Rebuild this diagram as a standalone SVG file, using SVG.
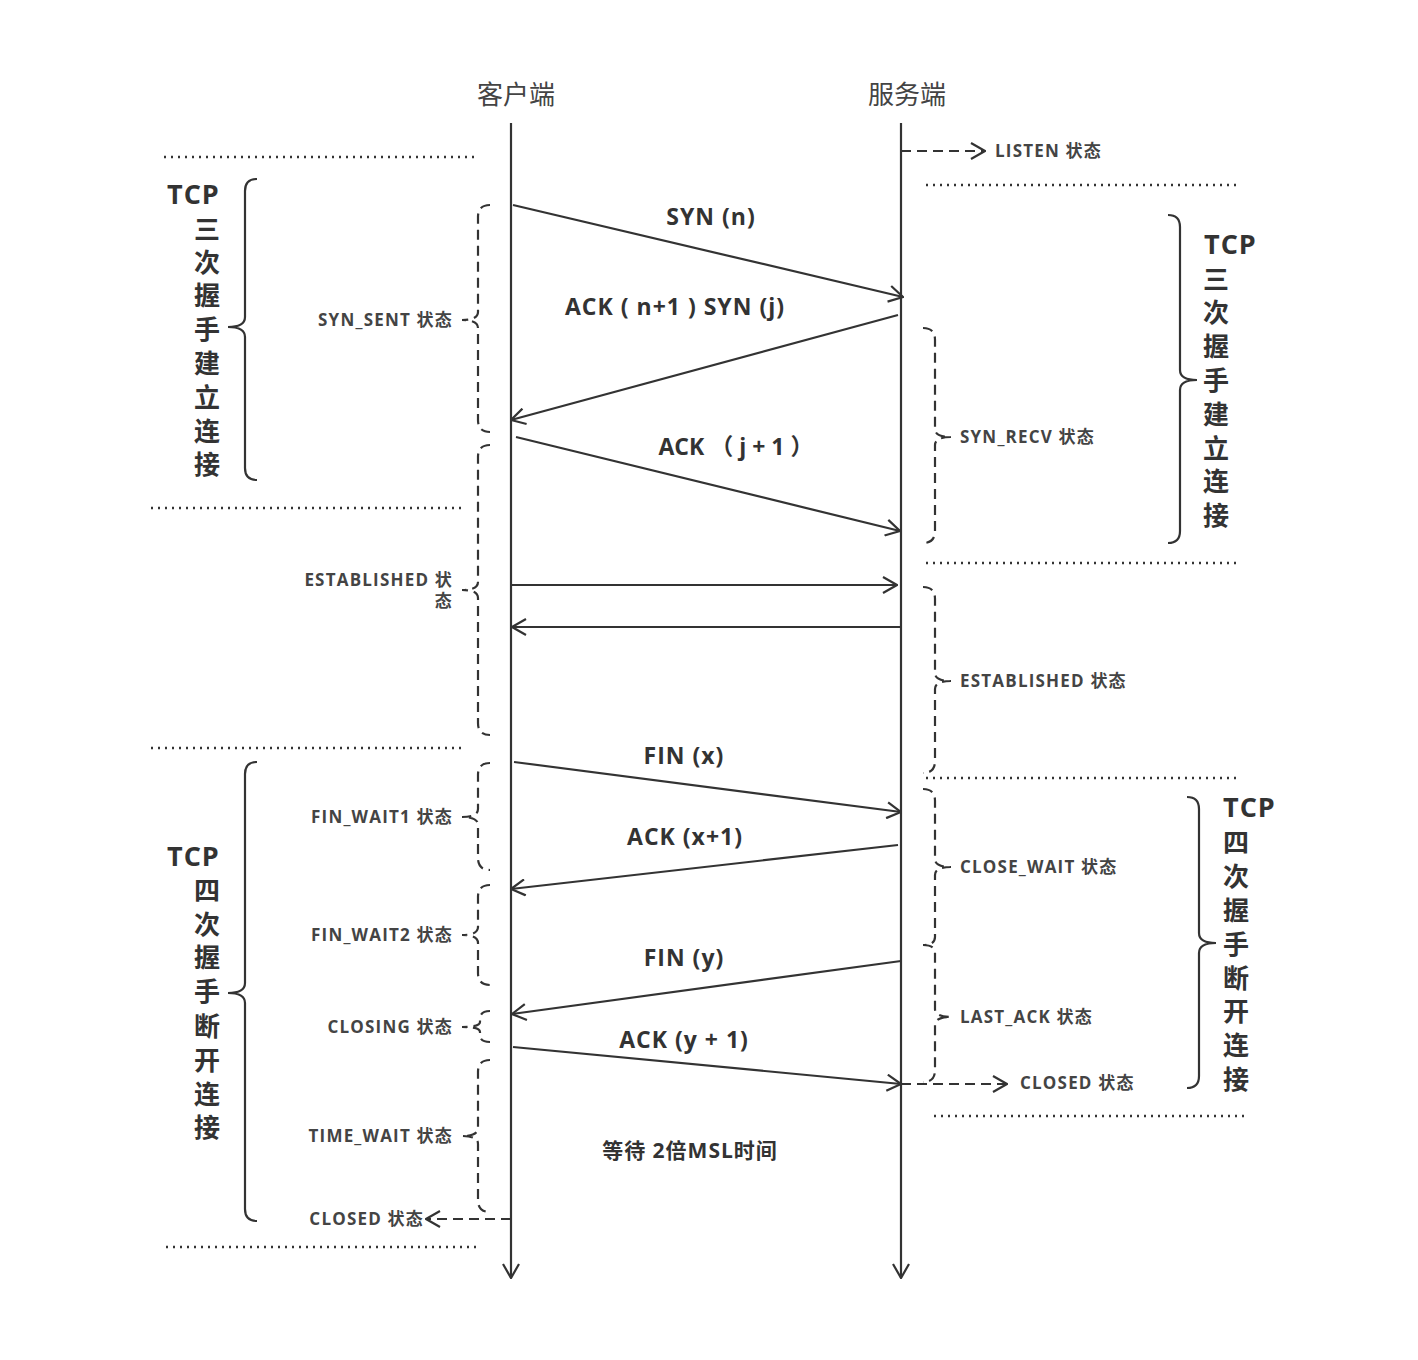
<svg xmlns="http://www.w3.org/2000/svg" width="1418" height="1360" viewBox="0 0 1418 1360">
<style>
  .life{stroke:#333;stroke-width:2.2;fill:none}
  .msg{stroke:#333;stroke-width:2.2;fill:none}
  .dash{stroke:#333;stroke-width:2.2;fill:none;stroke-dasharray:10 6}
  .dot{stroke:#333;stroke-width:2.5;fill:none;stroke-dasharray:2 5}
  .brace{stroke:#333;stroke-width:2.2;fill:none}
  .dbrace{stroke:#333;stroke-width:2.2;fill:none;stroke-dasharray:10 6}
  .hdr{font-family:"Noto Sans CJK SC","Noto Sans",sans-serif;font-size:26px;fill:#444;text-anchor:middle}
  .lbl{font-family:"Open Sans","Noto Sans CJK SC",sans-serif;font-size:23px;font-weight:bold;fill:#333;text-anchor:middle;letter-spacing:1px}
  .st{font-family:"Open Sans","Noto Sans CJK SC",sans-serif;font-size:17px;font-weight:bold;fill:#444;letter-spacing:1.2px}
  .end{text-anchor:end}
  .big{font-family:"Open Sans","Noto Sans CJK SC",sans-serif;font-size:27px;font-weight:bold;fill:#333;letter-spacing:1px}
  .vc{text-anchor:middle;letter-spacing:0;font-size:26px}
</style>
<defs>
  <marker id="ah" viewBox="0 0 16 18" refX="15" refY="9" markerWidth="16" markerHeight="18" markerUnits="userSpaceOnUse" orient="auto">
    <path d="M1,1 L15,9 L1,17" fill="none" stroke="#333" stroke-width="2.2" stroke-dasharray="none"/>
  </marker>
</defs>

<g id="client">
  <text class="hdr" x="516" y="104">客户端</text>
  <line class="life" x1="511" y1="123" x2="511" y2="1278" marker-end="url(#ah)"/>
</g>
<g id="server">
  <text class="hdr" x="907" y="104">服务端</text>
  <line class="life" x1="901" y1="123" x2="901" y2="1278" marker-end="url(#ah)"/>
</g>

<g id="separators">
  <line class="dot" x1="164" y1="157" x2="477" y2="157"/>
  <line class="dot" x1="926" y1="185" x2="1238" y2="185"/>
  <line class="dot" x1="151" y1="508" x2="463" y2="508"/>
  <line class="dot" x1="926" y1="563" x2="1238" y2="563"/>
  <line class="dot" x1="151" y1="748" x2="465" y2="748"/>
  <line class="dot" x1="926" y1="778" x2="1238" y2="778"/>
  <line class="dot" x1="934" y1="1116" x2="1246" y2="1116"/>
  <line class="dot" x1="166" y1="1247" x2="478" y2="1247"/>
</g>

<g id="connectors">
  <line class="dash" x1="901" y1="151" x2="985" y2="151" marker-end="url(#ah)"/>
  <line class="msg" x1="513" y1="205" x2="903" y2="297" marker-end="url(#ah)"/>
  <line class="msg" x1="898" y1="315" x2="511" y2="420" marker-end="url(#ah)"/>
  <line class="msg" x1="516" y1="437" x2="900" y2="531" marker-end="url(#ah)"/>
  <line class="msg" x1="511" y1="585" x2="897" y2="585" marker-end="url(#ah)"/>
  <line class="msg" x1="900" y1="627" x2="512" y2="627" marker-end="url(#ah)"/>
  <line class="msg" x1="514" y1="762" x2="901" y2="812" marker-end="url(#ah)"/>
  <line class="msg" x1="898" y1="845" x2="511" y2="889" marker-end="url(#ah)"/>
  <line class="msg" x1="901" y1="961" x2="512" y2="1014" marker-end="url(#ah)"/>
  <line class="msg" x1="513" y1="1047" x2="901" y2="1084" marker-end="url(#ah)"/>
  <line class="dash" x1="901" y1="1084" x2="1007" y2="1084" marker-end="url(#ah)"/>
  <line class="dash" x1="511" y1="1219" x2="426" y2="1219" marker-end="url(#ah)"/>
</g>

<g id="msg-labels">
  <text class="lbl" x="711" y="225">SYN (n)</text>
  <text class="lbl" x="675" y="315">ACK ( n+1 ) SYN (j)</text>
  <text class="lbl" x="736" y="455" style="letter-spacing:0">ACK （ j + 1 ）</text>
  <text class="lbl" x="684" y="764">FIN (x)</text>
  <text class="lbl" x="685" y="845">ACK (x+1)</text>
  <text class="lbl" x="684" y="966">FIN (y)</text>
  <text class="lbl" x="684" y="1048">ACK (y + 1)</text>
  <text class="lbl" x="690" y="1158" style="font-size:21px">等待 2倍MSL时间</text>
</g>

<g id="client-states">
  <path class="dbrace" d="M490,205 Q478,205 478,217 L478,312 Q478,320 462,320 Q478,320 478,328 L478,420 Q478,432 490,432"/>
  <text class="st end" x="453" y="326">SYN_SENT 状态</text>
  <path class="dbrace" d="M490,445 Q478,445 478,457 L478,582 Q478,590 462,590 Q478,590 478,598 L478,723 Q478,735 490,735"/>
  <text class="st end" x="453" y="586">ESTABLISHED 状</text>
  <text class="st end" x="453" y="607">态</text>
  <path class="dbrace" d="M490,763 Q478,763 478,775 L478,809 Q478,817 462,817 Q478,817 478,825 L478,858 Q478,870 490,870"/>
  <text class="st end" x="453" y="823">FIN_WAIT1 状态</text>
  <path class="dbrace" d="M490,885 Q478,885 478,897 L478,927 Q478,935 462,935 Q478,935 478,943 L478,973 Q478,985 490,985"/>
  <text class="st end" x="453" y="941">FIN_WAIT2 状态</text>
  <path class="dbrace" d="M490,1011 Q480,1011 480,1019 L480,1022 Q480,1027 462,1027 Q480,1027 480,1032 L480,1035 Q480,1042 490,1042"/>
  <text class="st end" x="453" y="1033">CLOSING 状态</text>
  <path class="dbrace" d="M490,1060 Q478,1060 478,1072 L478,1128 Q478,1136 462,1136 Q478,1136 478,1144 L478,1200 Q478,1212 490,1212"/>
  <text class="st end" x="453" y="1142">TIME_WAIT 状态</text>
  <text class="st end" x="424" y="1225">CLOSED 状态</text>
</g>

<g id="server-states">
  <text class="st" x="995" y="157">LISTEN 状态</text>
  <path class="dbrace" d="M923,328 Q935,328 935,340 L935,429 Q935,437 951,437 Q935,437 935,445 L935,531 Q935,543 923,543"/>
  <text class="st" x="960" y="443">SYN_RECV 状态</text>
  <path class="dbrace" d="M923,587 Q935,587 935,599 L935,673 Q935,681 951,681 Q935,681 935,689 L935,761 Q935,773 923,773"/>
  <text class="st" x="960" y="687">ESTABLISHED 状态</text>
  <path class="dbrace" d="M923,789 Q935,789 935,801 L935,859 Q935,867 951,867 Q935,867 935,875 L935,937 Q935,945 923,945"/>
  <text class="st" x="960" y="873">CLOSE_WAIT 状态</text>
  <path class="dbrace" d="M923,945 Q935,945 935,953 L935,1009 Q935,1017 951,1017 Q935,1017 935,1025 L935,1070 Q935,1082 923,1082"/>
  <text class="st" x="960" y="1023">LAST_ACK 状态</text>
  <text class="st" x="1020" y="1089">CLOSED 状态</text>
</g>

<g id="group-handshake-left">
  <path class="brace" d="M257,179 Q245,179 245,191 L245,317 Q245,327 228,327 Q245,327 245,337 L245,468 Q245,480 257,480"/>
  <text class="big" x="167" y="204">TCP</text>
  <text class="big vc" x="207" y="239">三</text>
  <text class="big vc" x="207" y="272">次</text>
  <text class="big vc" x="207" y="305">握</text>
  <text class="big vc" x="207" y="339">手</text>
  <text class="big vc" x="207" y="373">建</text>
  <text class="big vc" x="207" y="407">立</text>
  <text class="big vc" x="207" y="441">连</text>
  <text class="big vc" x="207" y="474">接</text>
</g>

<g id="group-teardown-left">
  <path class="brace" d="M257,762 Q245,762 245,774 L245,983 Q245,993 228,993 Q245,993 245,1003 L245,1209 Q245,1221 257,1221"/>
  <text class="big" x="167" y="866">TCP</text>
  <text class="big vc" x="207" y="900">四</text>
  <text class="big vc" x="207" y="934">次</text>
  <text class="big vc" x="207" y="967">握</text>
  <text class="big vc" x="207" y="1001">手</text>
  <text class="big vc" x="207" y="1036">断</text>
  <text class="big vc" x="207" y="1070">开</text>
  <text class="big vc" x="207" y="1104">连</text>
  <text class="big vc" x="207" y="1137">接</text>
</g>

<g id="group-handshake-right">
  <path class="brace" d="M1168,215 Q1180,215 1180,227 L1180,370 Q1180,380 1197,380 Q1180,380 1180,390 L1180,531 Q1180,543 1168,543"/>
  <text class="big" x="1204" y="254">TCP</text>
  <text class="big vc" x="1216" y="289">三</text>
  <text class="big vc" x="1216" y="322">次</text>
  <text class="big vc" x="1216" y="356">握</text>
  <text class="big vc" x="1216" y="390">手</text>
  <text class="big vc" x="1216" y="424">建</text>
  <text class="big vc" x="1216" y="458">立</text>
  <text class="big vc" x="1216" y="491">连</text>
  <text class="big vc" x="1216" y="525">接</text>
</g>

<g id="group-teardown-right">
  <path class="brace" d="M1187,797 Q1199,797 1199,809 L1199,933 Q1199,943 1216,943 Q1199,943 1199,953 L1199,1076 Q1199,1088 1187,1088"/>
  <text class="big" x="1223" y="817">TCP</text>
  <text class="big vc" x="1236" y="852">四</text>
  <text class="big vc" x="1236" y="886">次</text>
  <text class="big vc" x="1236" y="920">握</text>
  <text class="big vc" x="1236" y="954">手</text>
  <text class="big vc" x="1236" y="988">断</text>
  <text class="big vc" x="1236" y="1021">开</text>
  <text class="big vc" x="1236" y="1055">连</text>
  <text class="big vc" x="1236" y="1089">接</text>
</g>
</svg>
